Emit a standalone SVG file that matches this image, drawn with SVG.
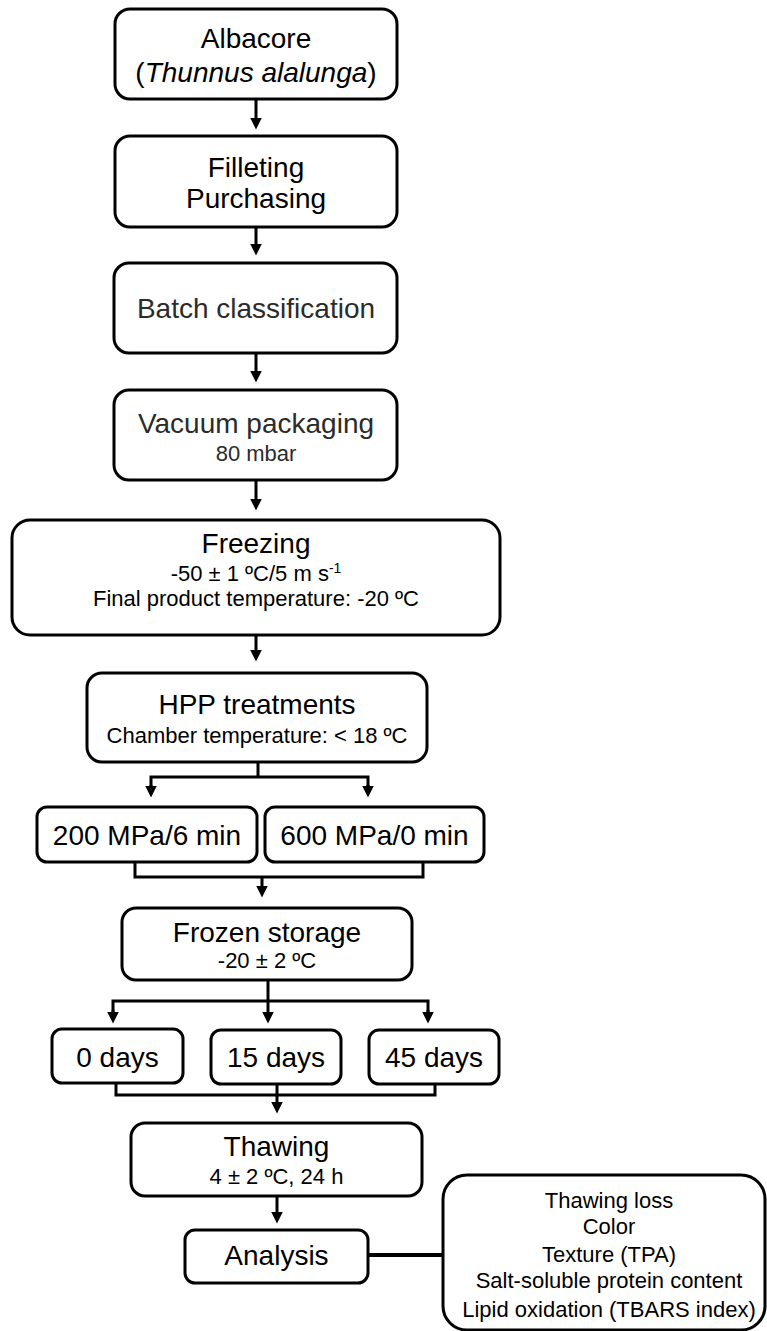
<svg xmlns="http://www.w3.org/2000/svg" width="767" height="1331" viewBox="0 0 767 1331">
<style>
.box{fill:#fff;stroke:#000;stroke-width:3}
.t{font-family:"Liberation Sans",Arial,sans-serif;text-anchor:middle;fill:#000}
.big{font-size:28px}
.small{font-size:22px}
.grey{fill:#2b2b2b}
.c{fill:none;stroke:#000;stroke-width:3}
</style>
<defs>
<marker id="ah" markerUnits="userSpaceOnUse" markerWidth="12" markerHeight="12" viewBox="0 0 11 11" refX="5" refY="5.5" orient="auto">
<path d="M0,0 L11,5.5 L0,11 z" fill="#000"/>
</marker>
</defs>
<rect width="767" height="1331" fill="#fff"/>
<g id="connectors">
<path class="c" d="M256,99 V123" marker-end="url(#ah)"/>
<path class="c" d="M256,227 V249" marker-end="url(#ah)"/>
<path class="c" d="M256,353 V376" marker-end="url(#ah)"/>
<path class="c" d="M256,480 V504" marker-end="url(#ah)"/>
<path class="c" d="M256,635 V655" marker-end="url(#ah)"/>
<path class="c" d="M258,762 V777"/>
<path class="c" d="M151,791 V777 H368 V791"/>
<path class="c" d="M151,785 V791" marker-end="url(#ah)"/>
<path class="c" d="M368,785 V791" marker-end="url(#ah)"/>
<path class="c" d="M135,862 V877 H423 V862"/>
<path class="c" d="M262,877 V891" marker-end="url(#ah)"/>
<path class="c" d="M268,980 V1017" marker-end="url(#ah)"/>
<path class="c" d="M113,1017 V1001 H428 V1017"/>
<path class="c" d="M113,1010 V1017" marker-end="url(#ah)"/>
<path class="c" d="M428,1010 V1017" marker-end="url(#ah)"/>
<path class="c" d="M116,1083 V1095 H435 V1084"/>
<path class="c" d="M277,1084 V1107" marker-end="url(#ah)"/>
<path class="c" d="M277,1196 V1217" marker-end="url(#ah)"/>
<path d="M368,1255 H443" fill="none" stroke="#000" stroke-width="4"/>
</g>
<g id="albacore">
<rect class="box" x="115" y="9" width="282" height="90" rx="15"/>
<text class="t big" x="256" y="48">Albacore</text>
<text class="t big" x="256" y="82">(<tspan font-style="italic">Thunnus alalunga</tspan>)</text>
</g>
<g id="filleting">
<rect class="box" x="115" y="136" width="282" height="91" rx="15"/>
<text class="t big" x="256" y="177">Filleting</text>
<text class="t big" x="256" y="208">Purchasing</text>
</g>
<g id="batch">
<rect class="box" x="114" y="263" width="283" height="90" rx="15"/>
<text class="t big grey" x="256" y="318">Batch classification</text>
</g>
<g id="vacuum">
<rect class="box" x="114" y="390" width="283" height="90" rx="15"/>
<text class="t big grey" x="256" y="433">Vacuum packaging</text>
<text class="t small grey" x="256" y="461">80 mbar</text>
</g>
<g id="freezing">
<rect class="box" x="12" y="520" width="488" height="115" rx="18"/>
<text class="t big" x="256" y="553">Freezing</text>
<text class="t small" x="256" y="581">-50 ± 1 ºC/5 m s<tspan font-size="14" dy="-8">-1</tspan></text>
<text class="t small" x="256" y="606">Final product temperature: -20 ºC</text>
</g>
<g id="hpp">
<rect class="box" x="87" y="673" width="340" height="89" rx="15"/>
<text class="t big" x="257" y="714">HPP treatments</text>
<text class="t small" x="257" y="743">Chamber temperature: &lt; 18 ºC</text>
</g>
<g id="mpa200">
<rect class="box" x="37" y="807" width="220" height="55" rx="10"/>
<text class="t big" x="147" y="845">200 MPa/6 min</text>
</g>
<g id="mpa600">
<rect class="box" x="265" y="807" width="219" height="55" rx="10"/>
<text class="t big" x="374.5" y="845">600 MPa/0 min</text>
</g>
<g id="frozen">
<rect class="box" x="122" y="908" width="290" height="72" rx="14"/>
<text class="t big" x="267" y="942">Frozen storage</text>
<text class="t small" x="267" y="968">-20 ± 2 ºC</text>
</g>
<g id="d0">
<rect class="box" x="52" y="1029" width="131" height="54" rx="10"/>
<text class="t big" x="117.5" y="1067">0 days</text>
</g>
<g id="d15">
<rect class="box" x="211" y="1030" width="130" height="54" rx="10"/>
<text class="t big" x="276" y="1067">15 days</text>
</g>
<g id="d45">
<rect class="box" x="369" y="1030" width="130" height="54" rx="10"/>
<text class="t big" x="434" y="1067">45 days</text>
</g>
<g id="thawing">
<rect class="box" x="131" y="1123" width="291" height="73" rx="14"/>
<text class="t big" x="276.5" y="1156">Thawing</text>
<text class="t small" x="276.5" y="1184">4 ± 2 ºC, 24 h</text>
</g>
<g id="analysis">
<rect class="box" x="185" y="1230" width="183" height="53" rx="10"/>
<text class="t big" x="276.5" y="1265">Analysis</text>
</g>
<g id="results">
<rect class="box" x="443" y="1175" width="322" height="155" rx="24"/>
<text class="t small" x="609" y="1208">Thawing loss</text>
<text class="t small" x="609" y="1234">Color</text>
<text class="t small" x="609" y="1262">Texture (TPA)</text>
<text class="t small" x="609" y="1288">Salt-soluble protein content</text>
<text class="t small" x="609" y="1317">Lipid oxidation (TBARS index)</text>
</g>
</svg>
